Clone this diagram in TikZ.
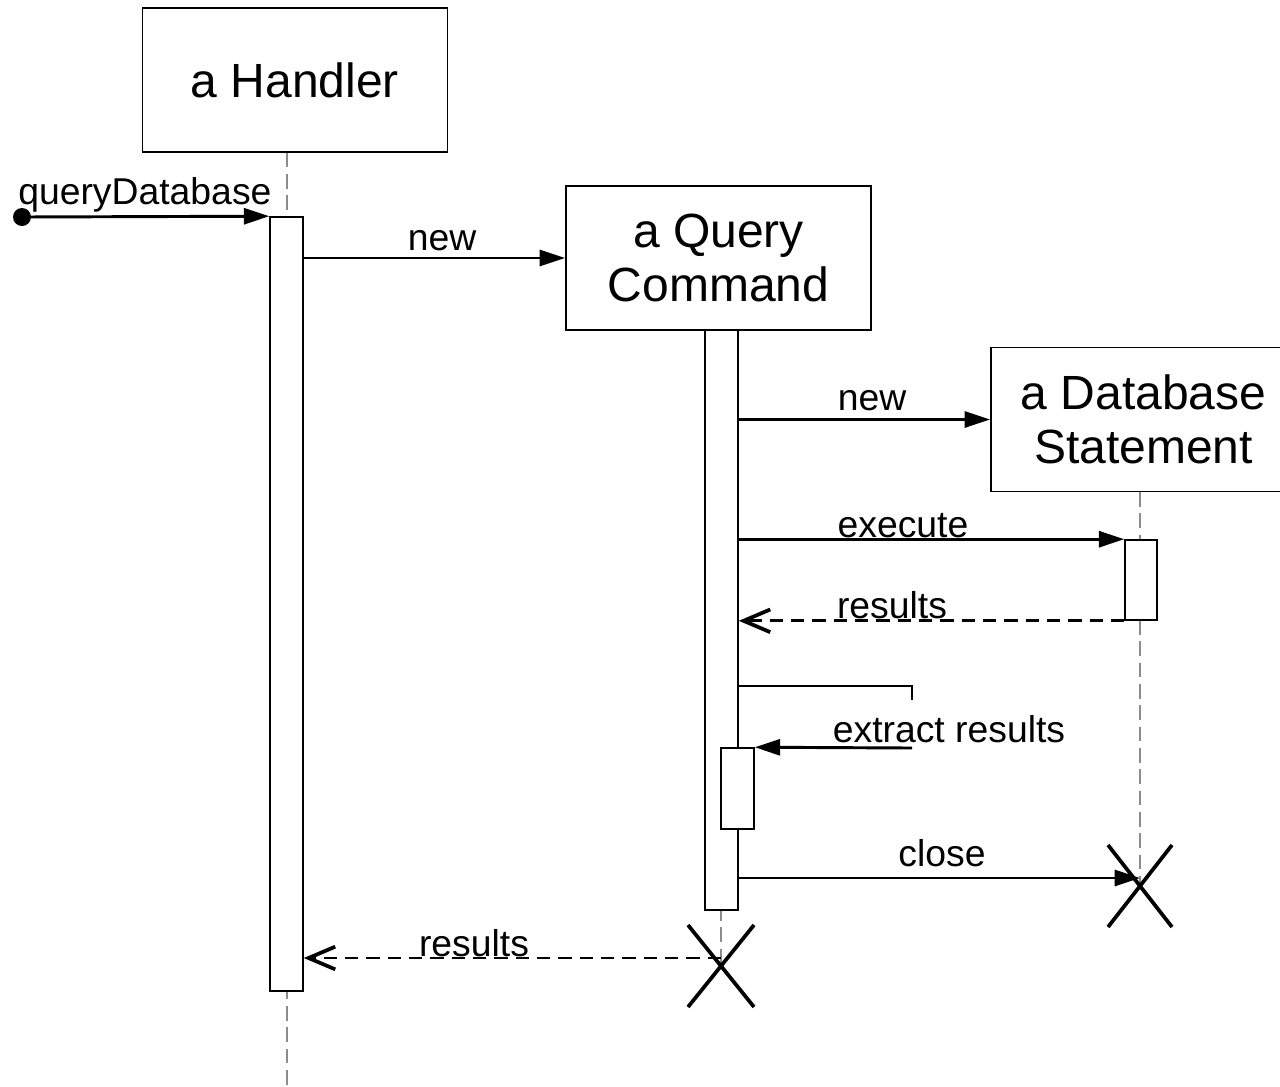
\documentclass[tikz,border=0pt]{standalone}
\usepackage{fontspec}
\setmainfont{Liberation Sans}
\usetikzlibrary{arrows.meta}
\begin{document}
\begin{tikzpicture}[x=0.75pt,y=-0.75pt,
  objbox/.style={draw, line width=1.2pt, fill=white, minimum width=229pt,
    minimum height=108pt, align=center, inner sep=0pt,
    font=\fontsize{36}{40.5}\selectfont},
  actbox/.style={draw, line width=1.2pt, fill=white, inner sep=0pt,
    minimum width=24.75pt},
  lifeline/.style={draw=black!45, line width=1.2pt, dash pattern=on 11pt off 5pt},
  msg/.style={line width=2.2pt, -{Triangle[length=19pt,width=12pt]}},
  reply/.style={line width=2.2pt, dash pattern=on 10pt off 6pt,
    -{Straight Barb[length=20pt,width=17pt,line width=2.8pt]}},
  selfline/.style={line width=2.2pt},
  lbl/.style={font=\fontsize{28}{32}\selectfont, anchor=base, inner sep=0pt},
  destroy/.style={line width=2.8pt}
]
\useasboundingbox (0,0) rectangle (1280,1086);

% participants
\node[objbox] (handler) at (295,80) {a Handler};
\node[objbox] (query) at (718.5,258) {a Query\\Command};
\node[objbox] (db) at (1143.5,419.5) {a Database\\Statement};

% lifelines
\draw[lifeline] (handler.south -| 287,0) -- (287,1086);
\draw[lifeline] (721,330) -- (721,966);
\draw[lifeline] (1140,492) -- (1140,886);

% activation bars
\node[actbox, minimum height=580.5pt] (hact) at (286.5,604) {};
\node[actbox, minimum height=435pt] (qact) at (721.5,620) {};
\node[actbox, minimum height=60.75pt] (qact2) at (737.5,788.5) {};
\node[actbox, minimum width=24pt, minimum height=60pt] (dact) at (1141,580) {};

% destruction marks
\coordinate (dbend) at (1140,886);
\coordinate (qend) at (721,966);
\draw[destroy] ([shift={(-32,-41)}]dbend) -- ([shift={(32,41)}]dbend)
               ([shift={(32,-41)}]dbend) -- ([shift={(-32,41)}]dbend);
\draw[destroy] ([shift={(-33,-41)}]qend) -- ([shift={(33,41)}]qend)
               ([shift={(33,-41)}]qend) -- ([shift={(-33,41)}]qend);

% found message
\coordinate (start) at (22,217);
\fill (start) circle (9);
\draw[msg] (start) -- (hact.north west);
\node[lbl, anchor=base west] (lq) at (18,204) {queryDatabase};

% creation of the query command
\draw[msg] (hact.east |- query.west) -- (query.west);
\node[lbl] (lnew1) at (442,250) {new};

% creation of the database statement
\draw[msg] (qact.east |- db.west) -- (db.west);
\node[lbl] (lnew2) at (872,410) {new};

% execute and its results
\draw[msg] (qact.east |- dact.north west) -- (dact.north west);
\node[lbl] (lexec) at (903,537) {execute};
\draw[reply] (dact.south west) -- (qact.east |- dact.south west);
\node[lbl] (lres1) at (892,618) {results};

% self call
\coordinate (selfout) at (738,686);
\coordinate (selfturn) at (912,686);
\coordinate (selfend) at (912,700);
\coordinate (selfback) at (912,748);
\draw[selfline] (selfout) -- (selfturn) -- (selfend);
\draw[msg] (selfback) -- (qact2.north east);
\node[lbl] (lext) at (949,742) {extract results};

% close
\coordinate (closeend) at (1140,878);
\draw[msg] (qact.east |- closeend) -- (closeend);
\node[lbl] (lclose) at (942,866) {close};

% final return
\coordinate (retstart) at (721,958);
\draw[reply] (retstart) -- (hact.east |- retstart);
\node[lbl] (lres2) at (474,956) {results};
\end{tikzpicture}
\end{document}
